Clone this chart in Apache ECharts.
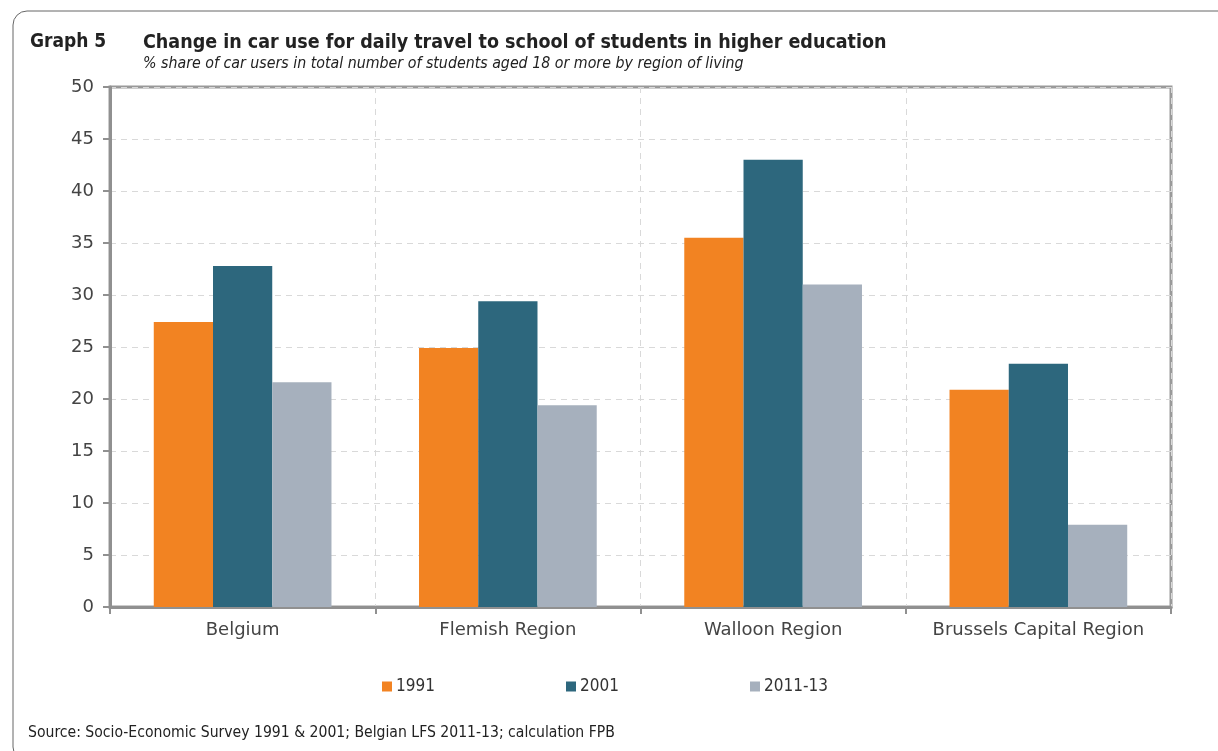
<!DOCTYPE html>
<html><head><meta charset="utf-8">
<script src="https://cdn.jsdelivr.net/npm/echarts@6/dist/echarts.min.js"></script>
<style>html,body{margin:0;padding:0;background:#fff}#c{width:1218px;height:751px}</style>
</head><body><div id="c"></div>
<script>
const categories = ['Belgium', 'Flemish Region', 'Walloon Region', 'Brussels Capital Region'];
const s1991 = [27.4, 24.9, 35.5, 20.9];
const s2001 = [32.8, 29.4, 43.0, 23.4];
const s2011 = [21.6, 19.4, 31.0, 7.9];
const seriesNames = ['1991', '2001', '2011-13'];
const colors = ['#F28322', '#2D677D', '#A6B0BD'];

const FONT = 'DejaVu Sans, sans-serif';
const CFONT = 'DejaVu Sans Condensed, DejaVu Sans, sans-serif';
const chart = echarts.init(document.getElementById('c'), null, {renderer: 'canvas'});
const data = [s1991, s2001, s2011];
chart.setOption({
  animation: false,
  textStyle: {fontFamily: FONT},
  graphic: [{
    type: 'rect', shape: {x: 13, y: 11, width: 1220, height: 750, r: 14},
    style: {fill: 'none', stroke: '#666', lineWidth: 1}, z: -10
  }],
  title: [
    {text: 'Graph 5', left: 30, top: 33, padding: 0, textStyle: {fontFamily: CFONT, fontSize: 19, fontWeight: 'bold', color: '#222'}},
    {text: 'Change in car use for daily travel to school of students in higher education', left: 143, top: 33, padding: 0,
     textStyle: {fontFamily: CFONT, fontSize: 19.5, fontWeight: 'bold', color: '#222'}},
    {text: '% share of car users in total number of students aged 18 or more by region of living', left: 143, top: 56, padding: 0,
     textStyle: {fontFamily: CFONT, fontSize: 15.8, fontStyle: 'italic', fontWeight: 'normal', color: '#222'}},
    {text: 'Source: Socio-Economic Survey 1991 & 2001; Belgian LFS 2011-13; calculation FPB', left: 28, top: 725, padding: 0,
     textStyle: {fontFamily: CFONT, fontSize: 15.6, fontWeight: 'normal', color: '#222'}}
  ],
  legend: seriesNames.map((n, i) => ({
    data: [n], left: [382, 566, 750][i], top: 678, padding: 0, itemWidth: 10, itemHeight: 10, itemGap: 4,
    icon: 'rect', textStyle: {fontFamily: CFONT, fontSize: 17, color: '#333', padding: [0, 0, 0, -1]}
  })),
  grid: {left: 110, right: 47, top: 87, bottom: 144, show: true, borderColor: '#999', borderWidth: 3},
  xAxis: {
    type: 'category', data: categories,
    axisLine: {lineStyle: {color: '#909090', width: 3}},
    axisTick: {show: true, length: 7, lineStyle: {color: '#909090', width: 2}},
    axisLabel: {interval: 0, fontSize: 18, color: '#444', margin: 14, fontFamily: FONT},
    splitLine: {show: true, interval: 0, lineStyle: {color: '#d9d9d9', type: [6, 5], width: 1}}
  },
  yAxis: {
    type: 'value', min: 0, max: 50, interval: 5,
    axisLine: {show: true, lineStyle: {color: '#909090', width: 3}},
    axisTick: {show: true, length: 7, lineStyle: {color: '#909090', width: 2}},
    axisLabel: {fontSize: 18, color: '#444', margin: 16, fontFamily: FONT},
    splitLine: {show: true, lineStyle: {color: '#d9d9d9', type: [6, 5], width: 1}}
  },
  series: seriesNames.map((n, i) => ({
    name: n, type: 'bar', data: data[i], barGap: '0%', barCategoryGap: '33%',
    itemStyle: {color: colors[i]}
  }))
});
</script></body></html>
